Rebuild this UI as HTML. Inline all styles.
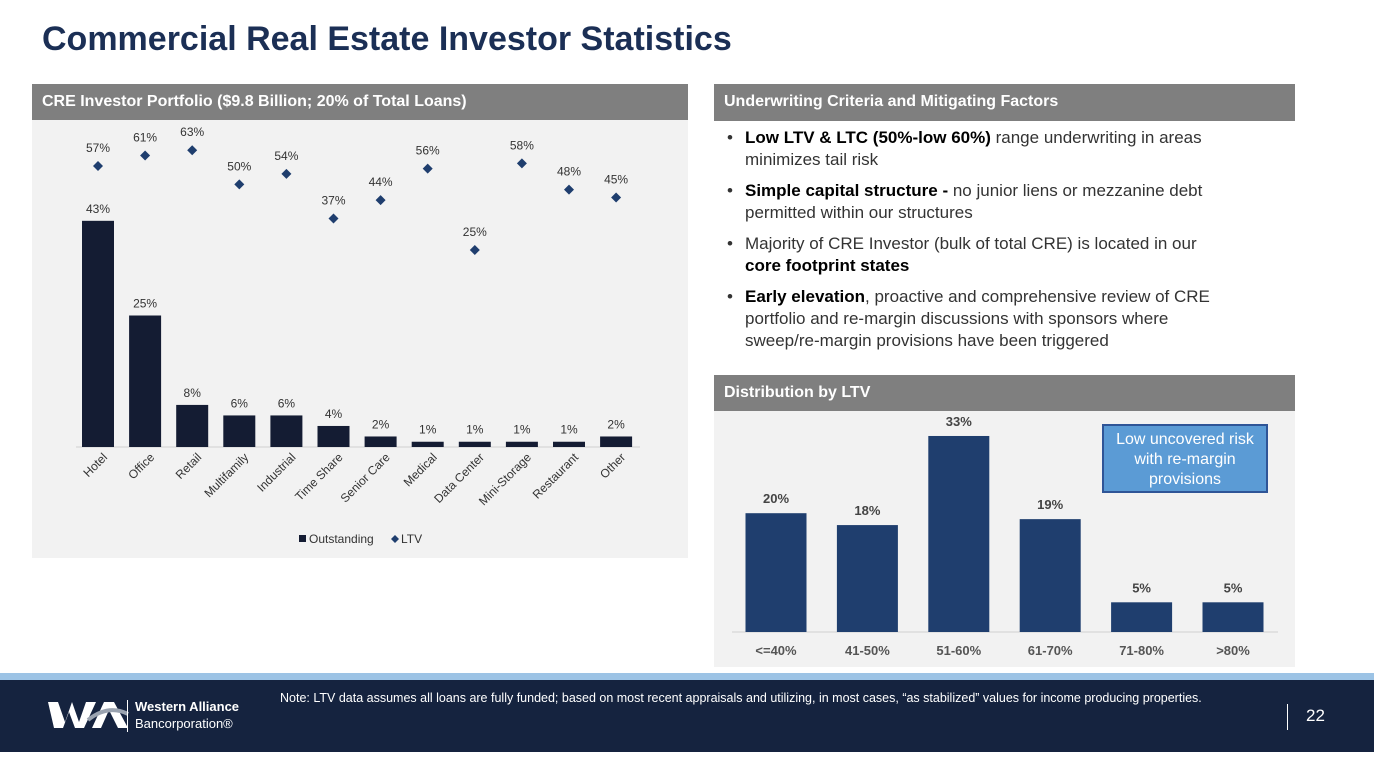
<!DOCTYPE html>
<html><head><meta charset="utf-8"><style>
body{margin:0;width:1374px;height:763px;background:#fff;font-family:"Liberation Sans",sans-serif;position:relative;overflow:hidden}
.abs{position:absolute}
.hdr{position:absolute;background:#7f7f7f;color:#fff;font-weight:bold;font-size:16px;line-height:36px;padding-left:10px;box-sizing:border-box}
.bul{position:absolute;left:727px;width:505px;font-size:17px;line-height:22px;color:#333}
.bul b{color:#000}
.bul:before{content:"•";position:absolute;left:0}
.bul span{display:block;padding-left:18px}
</style></head><body>
<div class="abs" style="left:42px;top:20px;font-size:34px;font-weight:bold;color:#1b2f55">Commercial Real Estate Investor Statistics</div>
<div class="hdr" style="left:32px;top:84px;width:656px;height:36px">CRE Investor Portfolio ($9.8 Billion; 20% of Total Loans)</div>
<div class="abs" style="left:32px;top:120px;width:656px;height:438px;background:#f2f2f2"></div>
<svg id="lc" class="abs" style="left:0;top:0" width="700" height="560"></svg>
<div class="hdr" style="left:714px;top:84px;width:581px;height:37px">Underwriting Criteria and Mitigating Factors</div>
<div class="bul" style="top:127px"><span><b>Low LTV &amp; LTC (50%-low 60%)</b> range underwriting in areas minimizes tail risk</span></div>
<div class="bul" style="top:180px"><span><b>Simple capital structure -</b> no junior liens or mezzanine debt permitted within our structures</span></div>
<div class="bul" style="top:233px"><span>Majority of CRE Investor (bulk of total CRE) is located in our <b>core footprint states</b></span></div>
<div class="bul" style="top:286px"><span><b>Early elevation</b>, proactive and comprehensive review of CRE portfolio and re-margin discussions with sponsors where sweep/re-margin provisions have been triggered</span></div>
<div class="hdr" style="left:714px;top:375px;width:581px;height:36px">Distribution by LTV</div>
<div class="abs" style="left:714px;top:411px;width:581px;height:256px;background:#f2f2f2"></div>
<svg id="rc" class="abs" style="left:0;top:0" width="1374" height="670"></svg>
<div class="abs" style="left:1102px;top:424px;width:166px;height:69px;box-sizing:border-box;background:#5b9bd5;border:2px solid #2f5597;color:#fff;font-size:16px;line-height:20px;text-align:center;padding-top:4px">Low uncovered risk with re-margin provisions</div>
<div class="abs" style="left:0;top:673px;width:1374px;height:7px;background:#9cc3e5"></div>
<div class="abs" style="left:0;top:680px;width:1374px;height:72px;background:#15233f"></div>
<svg class="abs" style="left:48px;top:700px" width="82" height="30"><polygon points="0,2 10,2 17,22 24,2 31,22 38,2 48,2 36,28 27,28 21,12 15,28 6,28" fill="#fff"/><polygon points="44,28 56,2 66,2 80,28 70,28 61,10 53,28" fill="#fff"/><path d="M40,20 Q60,4 80,14" stroke="#9aa3b0" stroke-width="4" fill="none"/></svg>
<div class="abs" style="left:127px;top:700px;width:1px;height:32px;background:#fff"></div>
<div class="abs" style="left:135px;top:698px;color:#fff;font-size:13px;line-height:17px"><b>Western Alliance</b><br>Bancorporation®</div>
<div class="abs" style="left:280px;top:691px;color:#fff;font-size:12.5px">Note: LTV data assumes all loans are fully funded; based on most recent appraisals and utilizing, in most cases, “as stabilized” values for income producing properties.</div>
<div class="abs" style="left:1287px;top:704px;width:1px;height:26px;background:#fff"></div>
<div class="abs" style="left:1306px;top:706px;color:#fff;font-size:17px">22</div>
<script>
const cats=["Hotel","Office","Retail","Multifamily","Industrial","Time Share","Senior Care","Medical","Data Center","Mini-Storage","Restaurant","Other"];
const outstanding=[43,25,8,6,6,4,2,1,1,1,1,2];
const ltv=[57,61,63,50,54,37,44,56,25,58,48,45];
const ltvCats=["<=40%","41-50%","51-60%","61-70%","71-80%",">80%"];
const ltvDist=[20,18,33,19,5,5];
const NS="http://www.w3.org/2000/svg";
function mk(svg,tag,attrs,txt){const e=document.createElementNS(NS,tag);for(const k in attrs)e.setAttribute(k,attrs[k]);if(txt!==undefined)e.textContent=txt;svg.appendChild(e);return e;}
const lc=document.getElementById('lc');
const lx=i=>98+i*47.1, ly=v=>447-v*5.26, dy=v=>315.6-v*2.625;
mk(lc,'line',{x1:76,x2:640,y1:447,y2:447,stroke:'#d0d0d0'});
cats.forEach((c,i)=>{
 const b=mk(lc,'rect',{x:lx(i)-16,y:ly(outstanding[i]),width:32,height:outstanding[i]*5.26,fill:'#141c33'});
 
 
 const t=mk(lc,'text',{x:lx(i),y:ly(outstanding[i])-8,'text-anchor':'middle','font-size':12,fill:'#333'},outstanding[i]+'%');
 
 
 const y=dy(ltv[i]);
 const d=mk(lc,'polygon',{points:`${lx(i)},${y-5} ${lx(i)+5},${y} ${lx(i)},${y+5} ${lx(i)-5},${y}`,fill:'#1f3e6e'});
 
 
 const t2=mk(lc,'text',{x:lx(i),y:y-14,'text-anchor':'middle','font-size':12,fill:'#333'},ltv[i]+'%');
 
 
 const cl=mk(lc,'text',{x:lx(i)+10,y:458,'text-anchor':'end','font-size':12,fill:'#333',transform:`rotate(-45 ${lx(i)+10} 458)`},c);
 
 
});
const lg=mk(lc,'g',{});


mk(lg,'rect',{x:299,y:535,width:7,height:7,fill:'#141c33'});
mk(lg,'text',{x:309,y:543,'font-size':12,fill:'#333'},'Outstanding');
mk(lg,'polygon',{points:'395,535 399,539 395,543 391,539',fill:'#1f3e6e'});
mk(lg,'text',{x:401,y:543,'font-size':12,fill:'#333'},'LTV');
const rc=document.getElementById('rc');
const rx=i=>776+i*91.4, ry=v=>632-v*5.94;
mk(rc,'line',{x1:732,x2:1278,y1:632,y2:632,stroke:'#d0d0d0'});
ltvCats.forEach((c,i)=>{
 const b=mk(rc,'rect',{x:rx(i)-30.5,y:ry(ltvDist[i]),width:61,height:ltvDist[i]*5.94,fill:'#1f3e6e'});
 
 
 const t=mk(rc,'text',{x:rx(i),y:ry(ltvDist[i])-10,'text-anchor':'middle','font-size':13,'font-weight':'bold',fill:'#444'},ltvDist[i]+'%');
 
 
 const cl=mk(rc,'text',{x:rx(i),y:655,'text-anchor':'middle','font-size':13,'font-weight':'bold',fill:'#555'},c);
 
 
});
</script>
</body></html>
